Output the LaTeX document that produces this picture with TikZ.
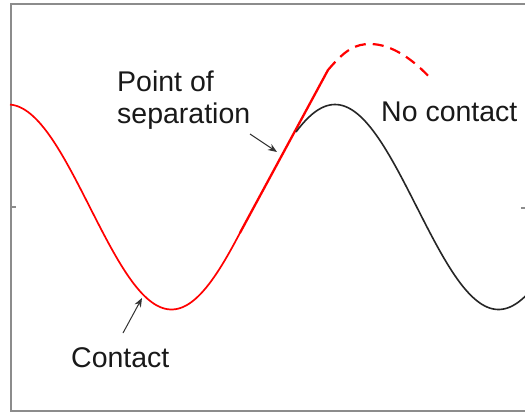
\documentclass[tikz,border=0pt]{standalone}
\usepackage{fontspec}
\setmainfont{Liberation Sans}
\usetikzlibrary{arrows.meta}
\definecolor{framegray}{RGB}{140,140,140}
\definecolor{txt}{RGB}{25,25,25}
\tikzset{
  frameline/.style={draw=framegray, line width=2pt},
  redcurve/.style={draw=red, line width=1.7pt, line join=round},
  redline/.style={draw=red, line width=2.3pt, line cap=round},
  blackcurve/.style={draw=black!85, line width=1.6pt},
  dashedred/.style={draw=red, line width=2.2pt, dash pattern=on 11pt off 7pt},
  label/.style={font=\fontsize{28.5}{32}\selectfont, text=txt, inner sep=0pt, anchor=base west, align=left},
  pointer/.style={draw=black!80, line width=1pt, -{Stealth[length=9pt,width=7pt]}}
}
\begin{document}
\begin{tikzpicture}[x=1pt,y=-1pt]
\useasboundingbox (0,0) rectangle (525,415);
\clip (0,0) rectangle (525,415);
\fill[white] (0,0) rectangle (525,415);
% frame
\draw[frameline] (540,4) -- (11,4) -- (11,411) -- (540,411);
\draw[framegray, line width=1.2pt] (11,207) -- (16,207);
\draw[framegray, line width=1.2pt] (521,208) -- (525,208);
% curves
\coordinate (kink) at (328,70);
\coordinate (turn) at (240,{207-102.5*cos(1.10092*(240-335))});
\draw[redcurve] plot[domain=10:240, samples=90] (\x, {207-102.5*cos(1.10092*(\x-335))});
\draw[redline] (turn) -- (kink);
\draw[blackcurve] plot[domain=296:526, samples=90] (\x, {207-102.5*cos(1.10092*(\x-335))});
\draw[dashedred] (kink) .. controls (345,50) and (355,44) .. (370,44) .. controls (392,44) and (414,60) .. (432,80);
% labels
\node[label] (pos) at (117,123) {Point of\\separation};
\node[label] (noc) at (381,121) {No contact};
\node[label] (con) at (71,367) {Contact};
\coordinate (posA) at (250,134);
\coordinate (posB) at (277,152);
\coordinate (conA) at (123,333);
\coordinate (conB) at (142,298);
\draw[pointer] (posA) -- (posB);
\draw[pointer] (conA) -- (conB);
\end{tikzpicture}
\end{document}
